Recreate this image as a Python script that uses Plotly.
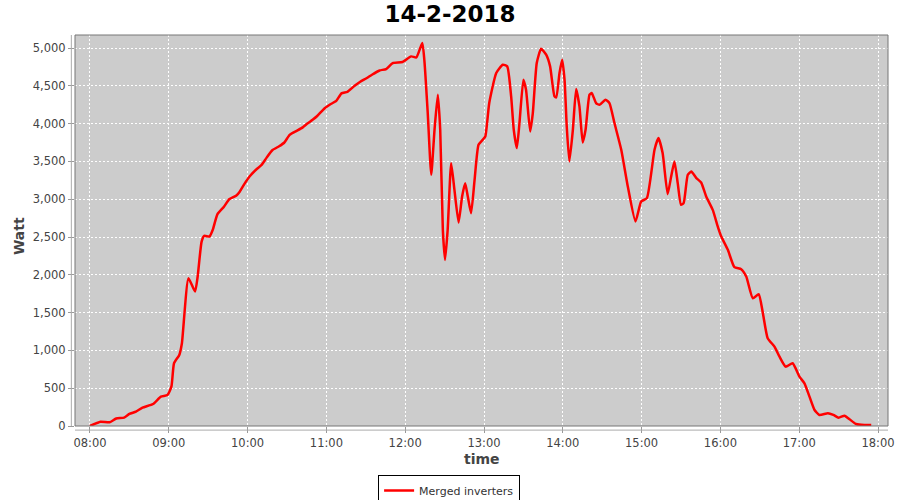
import plotly.graph_objects as go

# Time of day (14-2-2018) and merged inverter power (W)
times = [
    "08:00", "08:08", "08:15", "08:20", "08:26", "08:30", "08:35", "08:40", "08:48", "08:54",
    "08:59", "09:02", "09:04", "09:08", "09:10", "09:15", "09:20", "09:22", "09:25", "09:27",
    "09:31", "09:33:30", "09:37", "09:42", "09:46", "09:51:30", "09:54", "09:57:30", "10:01:30", "10:07",
    "10:10:30", "10:14:30", "10:19", "10:24", "10:28", "10:32", "10:37", "10:42", "10:45:30", "10:49:30",
    "10:53", "10:58:30", "11:02:30", "11:07:30", "11:11:30", "11:16", "11:21:30", "11:25:30", "11:30:30", "11:35",
    "11:40:30", "11:45:30", "11:50:30", "11:58", "12:04:30", "12:08:30", "12:13", "12:14:40", "12:17:10", "12:19:50",
    "12:22:20", "12:24:50", "12:26:40", "12:28:40", "12:30:20", "12:32:20", "12:35", "12:37:30", "12:40:40", "12:43:20",
    "12:45:40", "12:47:40", "12:50:10", "12:52:50", "12:55:50", "12:59", "13:01", "13:04", "13:09:20", "13:14:20",
    "13:17:40", "13:20:40", "13:22:40", "13:25", "13:27", "13:30", "13:32", "13:35:10", "13:37:10", "13:40:10",
    "13:43:30", "13:47:20", "13:50:20", "13:53:40", "13:55", "13:57:30", "13:59:30", "14:01:20", "14:03", "14:05",
    "14:07:40", "14:10:10", "14:12:40", "14:15:10", "14:17:20", "14:20:20", "14:22", "14:25:20", "14:28", "14:32:30",
    "14:35:30", "14:39:20", "14:44:30", "14:49:30", "14:55:20", "14:59:40", "15:04", "15:09:50", "15:12:50", "15:16",
    "15:19:50", "15:22:30", "15:25", "15:27:30", "15:30", "15:32", "15:35:10", "15:37:50", "15:41:40", "15:45:20",
    "15:49:10", "15:54:10", "15:58", "16:00:40", "16:05:40", "16:10:40", "16:15:50", "16:19:40", "16:24:40", "16:29:10",
    "16:32:20", "16:36", "16:41:10", "16:45", "16:49:40", "16:55", "17:00:10", "17:04", "17:07:50", "17:11:40",
    "17:15:20", "17:21:50", "17:26", "17:30", "17:34:30", "17:38:20", "17:43:20", "17:49:40", "17:54:50",
]
watts = [
    0, 57, 49, 100, 110, 159, 190, 243, 291, 388,
    410, 520, 830, 940, 1095, 1955, 1778, 1977, 2440, 2515,
    2506, 2595, 2800, 2900, 3000, 3050, 3100, 3200, 3300, 3400,
    3450, 3550, 3650, 3700, 3750, 3850, 3900, 3950, 4000, 4050,
    4100, 4200, 4250, 4300, 4400, 4420, 4500, 4550, 4600, 4650,
    4703, 4722, 4801, 4815, 4889, 4876, 5066, 4823, 4139, 3323,
    3918, 4382, 3918, 2595, 2197, 2595, 3477, 3124, 2691, 3036,
    3212, 3036, 2815, 3256, 3720, 3786, 3830, 4272, 4669, 4779,
    4757, 4360, 3918, 3676, 4007, 4580, 4448, 3896, 4139, 4801,
    4991, 4911, 4757, 4360, 4347, 4669, 4845, 4580, 3962, 3499,
    3918, 4457, 4227, 3750, 3918, 4382, 4404, 4272, 4249, 4316,
    4272, 4007, 3654, 3168, 2705, 2969, 3014, 3654, 3808, 3610,
    3067, 3300, 3499, 3212, 2926, 2948, 3323, 3366, 3279, 3221,
    3036, 2859, 2638, 2506, 2330, 2101, 2074, 1977, 1690, 1743,
    1492, 1161, 1050, 917, 785, 830, 653, 565, 388, 212,
    146, 168, 146, 110, 136, 89, 26, 13, 13,
]

chart_title = "14-2-2018"
series_name = "Merged inverters"
x_title = "time"
y_title = "Watt"
day = "2018-02-14"


def stamp(t):
    if t.count(":") == 1:
        t = t + ":00"
    return f"{day} {t}"


xs = [stamp(t) for t in times]

fig = go.Figure()
fig.add_trace(go.Scatter(
    x=xs, y=watts, mode="lines", name=series_name,
    line=dict(color="#ff0000", width=2.5, shape="spline", smoothing=0.5),
    showlegend=True,
))

grid = dict(showgrid=True, gridcolor="#ffffff", gridwidth=1, griddash="2px,2px")
tickfont = dict(family="DejaVu Sans", size=11.5, color="#444444")

fig.update_layout(
    width=900, height=500,
    margin=dict(l=75, r=12, t=35, b=74, autoexpand=False),
    paper_bgcolor="#ffffff",
    plot_bgcolor="#cccccc",
    title=dict(text=f"<b>{chart_title}</b>", x=0.5, xref="container", xanchor="center",
               y=0.972, yref="container", yanchor="middle",
               font=dict(family="DejaVu Sans", size=23, color="#000000")),
    xaxis=dict(
        type="date", range=[f"{day} 07:48:36", f"{day} 18:07:36"],
        tick0=f"{day} 08:00", dtick=3600000, tickformat="%H:%M",
        ticks="outside", ticklen=6, tickcolor="#999999", tickfont=tickfont,
        showline=False, zeroline=False, automargin=False, **grid,
    ),
    yaxis=dict(
        range=[0, 5172], dtick=500, tickformat=",",
        ticks="outside", ticklen=6, tickcolor="#999999", tickfont=tickfont,
        showline=False, zeroline=False, automargin=False, **grid,
    ),
    showlegend=True,
    legend=dict(
        orientation="h", x=0.499, xref="container", xanchor="center",
        y=0.05, yref="container", yanchor="top",
        bordercolor="#000000", borderwidth=1, bgcolor="#ffffff",
        font=dict(family="DejaVu Sans", size=11, color="#333333"),
        itemwidth=30,
    ),
    shapes=[
        dict(type="rect", xref="paper", yref="paper", x0=0, x1=1, y0=0, y1=1,
             line=dict(color="#777777", width=1), fillcolor="rgba(0,0,0,0)", layer="above"),
        dict(type="line", xref="paper", yref="paper", x0=-0.0045, x1=-0.0045, y0=0, y1=1,
             line=dict(color="#aaaaaa", width=1)),
        dict(type="line", xref="paper", yref="paper", x0=0, x1=1, y0=-0.0105, y1=-0.0105,
             line=dict(color="#aaaaaa", width=1)),
    ],
    annotations=[
        dict(text=f"<b>{x_title}</b>", xref="paper", yref="paper", x=0.5, y=-0.085,
             xanchor="center", yanchor="middle", showarrow=False,
             font=dict(family="DejaVu Sans", size=14, color="#444444")),
        dict(text=f"<b>{y_title}</b>", xref="paper", yref="paper", x=-0.068, y=0.485,
             xanchor="center", yanchor="middle", showarrow=False, textangle=-90,
             font=dict(family="DejaVu Sans", size=14, color="#444444")),
    ],
)

fig.write_html("out.html", config={"displayModeBar": False},
               post_script="document.body.style.margin='0px';")
